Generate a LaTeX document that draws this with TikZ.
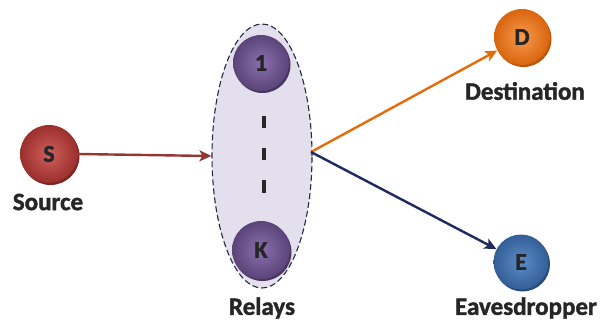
\documentclass[tikz,border=0pt]{standalone}
\usepackage{fontspec}
\setmainfont{Carlito}[BoldFont={Carlito Bold}, BoldFeatures={FakeBold=1.6}]
\usetikzlibrary{arrows.meta,shapes.geometric}
\definecolor{srcL}{HTML}{D0605C}
\definecolor{srcD}{HTML}{9A2F2C}
\definecolor{relL}{HTML}{8A70AE}
\definecolor{relD}{HTML}{5A4478}
\definecolor{dstL}{HTML}{F79A4E}
\definecolor{dstD}{HTML}{D9650E}
\definecolor{eavL}{HTML}{5B8CC8}
\definecolor{eavD}{HTML}{345E96}
\definecolor{arrRed}{HTML}{943634}
\definecolor{arrOrg}{HTML}{E46C0A}
\definecolor{arrNav}{HTML}{1F2A5E}
\definecolor{ellFill}{HTML}{E4DFEC}
\definecolor{ellLine}{HTML}{1F2A44}
\definecolor{txt}{HTML}{262626}
\tikzset{
  ball/.style n args={3}{circle, minimum size=#1, inner sep=0pt, inner color=#2, outer color=#3,
     text=txt, font=\fontsize{24}{26}\selectfont\bfseries},
  lbl/.style={text=txt, font=\fontsize{25}{27}\selectfont\bfseries, inner sep=0pt},
  arr/.style={line width=2.4pt, -{Stealth[length=12pt,width=11pt,inset=3pt]}},
  bar/.style={line width=3.6pt, txt}
}
\begin{document}
\begin{tikzpicture}[x=1pt,y=-1pt]
\useasboundingbox (0,0) rectangle (603,322);
% relay group
\node[ellipse, draw=ellLine, dash pattern=on 6pt off 3pt, line width=1.1pt, fill=ellFill, minimum width=100pt, minimum height=264pt, inner sep=0pt] (rel) at (262,156) {};
% shadows
\fill[srcD!80!black] (50.5,156) circle (29);
\fill[relD!80!black] (262.5,65) circle (28);
\fill[relD!80!black] (262.5,252) circle (29);
\fill[dstD!85!black] (523.5,39) circle (28);
\fill[eavD!80!black] (522.5,264) circle (27.5);
% balls
\node[ball={58pt}{srcL}{srcD}] (S) at (49,154) {S};
\node[ball={56pt}{relL}{relD}] (R1) at (261,63) {1};
\node[ball={58pt}{relL}{relD}] (RK) at (261,250) {K};
\node[ball={56pt}{dstL}{dstD}] (D) at (522,37) {D};
\node[ball={55pt}{eavL}{eavD}] (E) at (521,262) {E};
% dots between relays
\coordinate (b1t) at (264,116); \coordinate (b1b) at (264,128);
\coordinate (b2t) at (264,148); \coordinate (b2b) at (264,160);
\coordinate (b3t) at (264,180); \coordinate (b3b) at (264,193);
\draw[bar] (b1t) -- (b1b);
\draw[bar] (b2t) -- (b2b);
\draw[bar] (b3t) -- (b3b);
% labels
\node[lbl] (lS) at (48,202) {Source};
\node[lbl] (lR) at (262,308) {Relays};
\node[lbl] (lD) at (525,91) {Destination};
\node[lbl] (lE) at (526,308) {Eavesdropper};
% connectors
\draw[arr, arrRed] (S.east) -- (rel.west);
\coordinate (relO) at (311,152);
\draw[arr, arrOrg] (relO) -- (D);
\draw[arr, arrNav] (relO) -- (E);
\end{tikzpicture}
\end{document}
